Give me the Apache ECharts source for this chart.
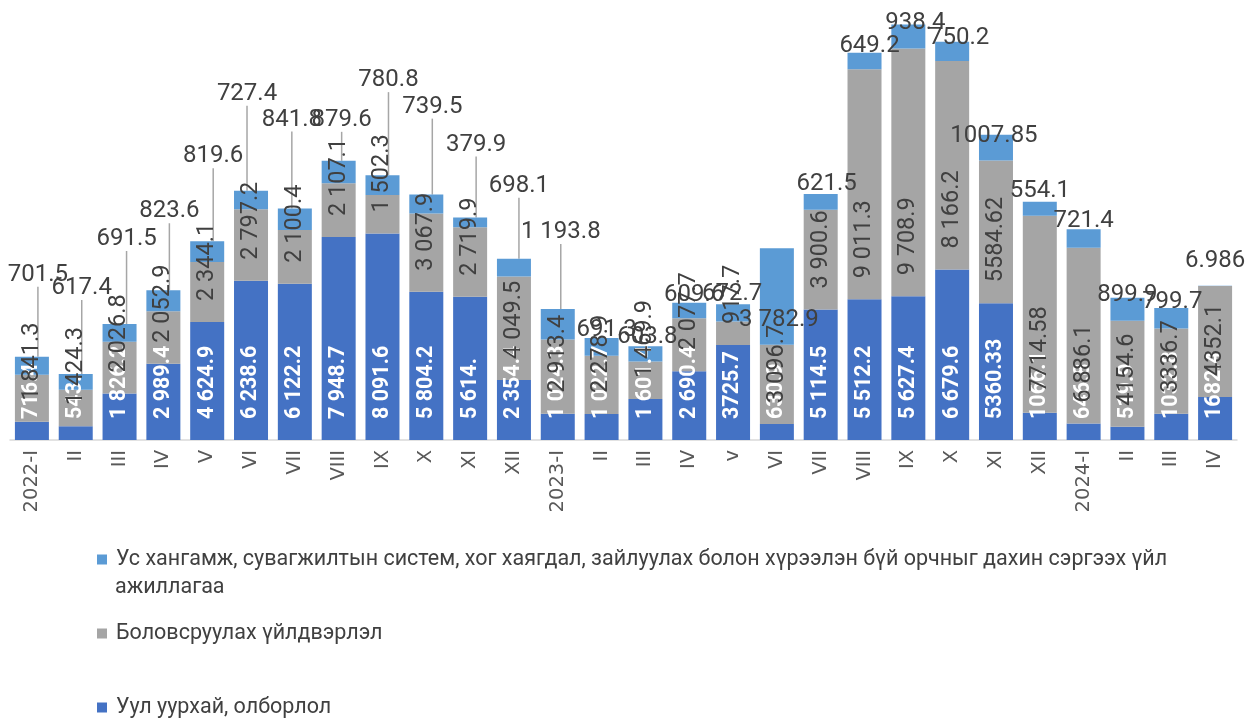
<!DOCTYPE html>
<html><head><meta charset="utf-8">
<script src="https://cdn.jsdelivr.net/npm/echarts@6/dist/echarts.min.js"></script>
<style>html,body{margin:0;padding:0;background:#fff}#c{width:1259px;height:720px}</style>
</head><body><div id="c"></div>
<script>
const categories = ["2022-I","II","III","IV","V","VI","VII","VIII","IX","X","XI","XII","2023-I","II","III","IV","v","VI","VII","VIII","IX","X","XI","XII","2024-I","II","III","IV"];

const seriesNames = [
  "Уул уурхай, олборлол",
  "Боловсруулах үйлдвэрлэл",
  "Ус хангамж, сувагжилтын систем, хог хаягдал, зайлуулах болон хүрээлэн бүй орчныг дахин сэргээх үйл ажиллагаа"
];
const legendFirstLine = "Ус хангамж, сувагжилтын систем, хог хаягдал, зайлуулах болон хүрээлэн бүй орчныг дахин сэргээх үйл";
const legendSecondLine = "ажиллагаа";

const miningValues = [716.4,543.1,1826.2,2989.4,4624.9,6238.6,6122.2,7948.7,8091.6,5804.2,5614.0,2354.4,1024.3,1022.7,1601.4,2690.4,3725.7,630.9,5114.5,5512.2,5627.4,6679.6,5360.33,1066.1,646.8,519.9,1032.8,1682.4];
const miningLabels = ["716.4","543.1","1 826.2","2 989.4","4 624.9","6 238.6","6 122.2","7 948.7","8 091.6","5 804.2","5 614.","2 354.4","1 024.3","1 022.7","1 601.4","2 690.4","3725.7","630.9","5 114.5","5 512.2","5 627.4","6 679.6","5360.33","1066.1","646.8","519.9","1032.8","1682.4"];

const manufValues = [1841.3,1424.3,2026.8,2052.9,2344.1,2797.2,2100.4,2107.1,1502.3,3067.9,2719.9,4049.5,2913.4,2278.9,1469.9,2077.7,917.7,3096.7,3900.6,9011.3,9708.9,8166.2,5584.62,7714.58,6886.1,4154.6,3336.7,4352.1];
const manufLabels = ["1 841.3","1 424.3","2 026.8","2 052.9","2 344.1","2 797.2","2 100.4","2 107.1","1 502.3","3 067.9","2 719.9","4 049.5","2 913.4","2 278.9","1 469.9","2 077.7","917.7","3 096.7","3 900.6","9 011.3","9 708.9","8 166.2","5584.62","7714.58","6 886.1","4154.6","3336.7","4352.1"];

const waterValues = [701.5,617.4,691.5,823.6,819.6,727.4,841.8,879.6,780.8,739.5,379.9,698.1,1193.8,691.3,603.8,609.6,672.7,3782.9,621.5,649.2,938.4,750.2,1007.85,554.1,721.4,899.9,799.7,6.986];
const waterLabels = ["701.5","617.4","691.5","823.6","819.6","727.4","841.8","879.6","780.8","739.5","379.9","698.1","1 193.8","691.3","603.8","609.6","672.7","3 782.9","621.5","649.2","938.4","750.2","1007.85","554.1","721.4","899.9","799.7","6.986"];

// label placement (pixels) for the water series labels, and which ones have leader lines
const waterLabelShift = [[6,-71],[6,-75],[7,-74],[6,-68],[6,-74],[-4,-86],[-3,-78],[3,-30],[6,-84],[6,-77],[6,-62],[5,-62],[3,-66],[5,3],[2,2],[5,3],[-1,1],[2,83],[6,1],[5,4],[7,9],[7,7],[-2,12],[0,0],[0,3],[0,8],[1,5],[0,-14]];
const leaderCount = 13;

const colors = {mining:'#4472C4', manuf:'#A5A5A5', water:'#5B9BD5'};

function rotLabel(texts, color, size, weight){
  return {show:true, position:'insideBottom', distance:21, rotate:90, align:'left', verticalAlign:'middle',
    color:color, fontSize:size, fontFamily:'Roboto', fontWeight:weight,
    formatter: p => texts[p.dataIndex]};
}

const chart = echarts.init(document.getElementById('c'), null, {renderer:'canvas'});
const legendText = {fontFamily:'Roboto', fontSize:21.5, color:'#404040', lineHeight:29, padding:[0,0,0,4]};
const legendBase = {left:97, orient:'vertical', itemWidth:10, itemHeight:10, icon:'rect', padding:0, textStyle:legendText};
chart.setOption({
  animation:false,
  grid:{left:10, right:22, top:6, bottom:280, containLabel:false},
  xAxis:{type:'category', data:categories,
    axisLine:{lineStyle:{color:'#d9d9d9', width:1.5}}, axisTick:{show:false},
    axisLabel:{interval:0, rotate:90, margin:10, color:'#595959', fontFamily:'DejaVu Sans', fontSize:19.5}},
  yAxis:{type:'value', min:0, max:17000, show:false, splitLine:{show:false}},
  legend:[
    Object.assign({data:[seriesNames[2]], top:545, formatter: () => legendFirstLine}, legendBase),
    Object.assign({data:[seriesNames[1]], top:619}, legendBase),
    Object.assign({data:[seriesNames[0]], top:693}, legendBase)
  ],
  graphic:[{type:'text', left:115, top:588-14.5, style:{text:legendSecondLine, fontFamily:'Roboto', fontSize:21.5, fill:'#404040', lineHeight:29}}],
  series:[
    {name:seriesNames[0], type:'bar', stack:'s', barWidth:34, data:miningValues,
      itemStyle:{color:colors.mining}, label:rotLabel(miningLabels,'#ffffff',21.5,'bold')},
    {name:seriesNames[1], type:'bar', stack:'s', barWidth:34, data:manufValues,
      itemStyle:{color:colors.manuf}, label:rotLabel(manufLabels,'#404040',23.5,'normal')},
    {name:seriesNames[2], type:'bar', stack:'s', barWidth:34,
      data: waterValues.map((v,i)=>({value:v, labelLine:{show:i<leaderCount}})),
      itemStyle:{color:colors.water},
      label:{show:true, position:'top', distance:0, color:'#404040', fontSize:24, fontFamily:'Roboto', lineHeight:22,
        formatter: p => waterLabels[p.dataIndex]},
      labelLine:{show:true, lineStyle:{color:'#a6a6a6', width:1.5}},
      labelLayout: p => ({dx: waterLabelShift[p.dataIndex][0], dy: waterLabelShift[p.dataIndex][1]})
    }
  ]
});
</script></body></html>
